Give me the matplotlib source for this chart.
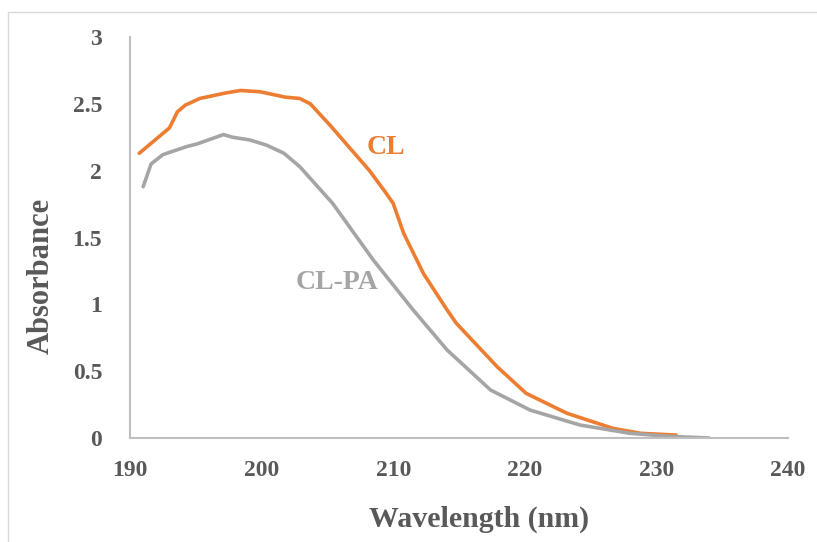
import matplotlib.pyplot as plt
from matplotlib.patches import Rectangle

# wavelength (nm) / absorbance
cl_wl = [190.7, 193.0, 193.6, 194.2, 195.3, 197.2, 198.4, 199.9, 201.8, 202.9, 203.7,
         205.2, 206.7, 208.2, 209.4, 210.0, 210.8, 212.3, 214.1, 214.8, 217.9, 220.1,
         223.2, 226.7, 228.8, 231.5]
cl_abs = [2.13, 2.32, 2.44, 2.49, 2.54, 2.58, 2.60, 2.59, 2.55, 2.54, 2.50,
          2.34, 2.17, 2.00, 1.84, 1.755, 1.53, 1.23, 0.957, 0.858, 0.533, 0.334,
          0.185, 0.072, 0.035, 0.022]

clpa_wl = [191.0, 191.6, 192.5, 194.3, 195.1, 197.1, 197.8, 199.1, 200.4, 201.7, 202.9,
           205.4, 208.5, 211.5, 214.1, 217.4, 220.4, 224.2, 228.0, 231.0, 234.0]
clpa_abs = [1.88, 2.05, 2.12, 2.18, 2.20, 2.27, 2.25, 2.23, 2.19, 2.13, 2.03,
            1.755, 1.33, 0.96, 0.658, 0.359, 0.209, 0.097, 0.035, 0.012, 0.0]

x_ticks = [190, 200, 210, 220, 230, 240]
y_ticks = [0, 0.5, 1, 1.5, 2, 2.5, 3]
y_tick_labels = ["0", "0.5", "1", "1.5", "2", "2.5", "3"]

orange = "#ED7D31"
grey = "#A5A5A5"
txt = "#595959"

plt.rcParams['font.family'] = ['Liberation Serif', 'DejaVu Serif']
plt.rcParams['font.weight'] = 'bold'

fig = plt.figure(figsize=(8.17, 5.42), dpi=100)
# light frame around the chart area (runs off the right/bottom edge)
fig.patches.append(Rectangle((8 / 817, -0.1), 1.2, (530 + 54) / 542, transform=fig.transFigure,
                             fill=False, edgecolor="#D9D9D9", linewidth=1))
ax = fig.add_axes([130 / 817, 104 / 542, 658 / 817, 401 / 542])

ax.plot(cl_wl, cl_abs, color=orange, linewidth=2.6, solid_joinstyle='round', solid_capstyle='round')
ax.plot(clpa_wl, clpa_abs, color=grey, linewidth=2.6, solid_joinstyle='round', solid_capstyle='round')

ax.text(209.45, 2.17, "CL", color=orange, fontsize=20, fontweight='bold', ha='center', va='center')
ax.text(205.7, 1.16, "CL-PA", color=grey, fontsize=20, fontweight='bold', ha='center', va='center')

ax.set_xlim(190, 240)
ax.set_ylim(0, 3)
ax.set_xticks(x_ticks)
ax.set_yticks(y_ticks)
ax.set_yticklabels(y_tick_labels)
ax.tick_params(length=0, labelsize=17, labelcolor=txt)
ax.tick_params(axis='x', pad=16)
ax.tick_params(axis='y', pad=20)
for lab in ax.get_xticklabels() + ax.get_yticklabels():
    lab.set_fontweight('bold')

for s in ['top', 'right']:
    ax.spines[s].set_visible(False)
for s in ['left', 'bottom']:
    ax.spines[s].set_color("#BFBFBF")
    ax.spines[s].set_linewidth(1.5)

ax.set_xlabel("Wavelength (nm)", fontsize=21.5, fontweight='bold', color=txt, va='center')
ax.set_ylabel("Absorbance", fontsize=22, fontweight='bold', color=txt, va='center')
ax.xaxis.set_label_coords(0.530, -0.204)
ax.yaxis.set_label_coords(-0.1345, 0.404)

fig.savefig("out.png", dpi=100)
